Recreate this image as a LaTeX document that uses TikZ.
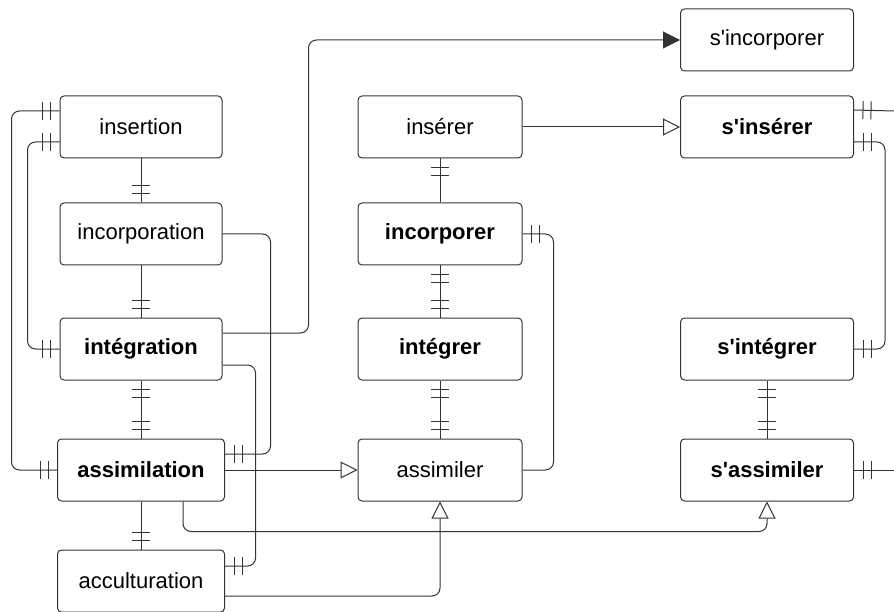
\documentclass[tikz,border=0pt]{standalone}
\usepackage{fontspec}
\setmainfont{Liberation Sans}
\definecolor{ERLine}{RGB}{51,51,51}
\usetikzlibrary{arrows.meta,decorations.markings}

\begin{document}
\begin{tikzpicture}[x=1pt,y=-1pt,line width=1pt,
    ent/.style={draw=ERLine,rounded corners=4pt,font=\fontsize{22}{26}\selectfont,
                minimum width=162pt,minimum height=62pt,inner sep=0pt},
    entb/.style={ent,font=\fontsize{22}{26}\selectfont\bfseries},
    lnk/.style={draw=ERLine,rounded corners=8pt},
    isa/.style={lnk,-{Triangle[open,length=17pt,width=17pt]}},
    go/.style={lnk,-{Triangle[length=17pt,width=17pt]}},
    erstart/.style={postaction={decorate,decoration={markings,
        mark=at position 9pt with {\draw[ERLine,-] (0,-9pt)--(0,9pt);},
        mark=at position 17pt with {\draw[ERLine,-] (0,-9pt)--(0,9pt);}}}},
    erend/.style={postaction={decorate,decoration={markings,
        mark=at position -9pt with {\draw[ERLine,-] (0,-9pt)--(0,9pt);},
        mark=at position -17pt with {\draw[ERLine,-] (0,-9pt)--(0,9pt);}}}}]
    \useasboundingbox (0,0) rectangle (894,612);

    \node[ent]  (insertion)     at (141,127) {insertion};
    \node[ent]  (incorporation) at (141,234) {incorporation};
    \node[entb] (integration)   at (141,349) {intégration};
    \node[entb,minimum width=167pt] (assimilation)  at (141,470) {assimilation};
    \node[ent,minimum width=167pt]  (acculturation) at (141,581) {acculturation};

    \node[ent,minimum width=164pt]  (inserer)    at (440,127) {insérer};
    \node[entb,minimum width=164pt] (incorporer) at (440,234) {incorporer};
    \node[entb,minimum width=164pt] (integrer)   at (440,349) {intégrer};
    \node[ent,minimum width=164pt]  (assimiler)  at (440,470) {assimiler};

    \node[ent,minimum width=173pt]  (sincorporer) at (767,40)  {s\textquotesingle incorporer};
    \node[entb,minimum width=173pt] (sinserer)    at (767,127) {s\textquotesingle insérer};
    \node[entb,minimum width=173pt] (sintegrer)   at (767,349) {s\textquotesingle intégrer};
    \node[entb,minimum width=173pt] (sassimiler)  at (767,470) {s\textquotesingle assimiler};

    \coordinate (outA) at (894,111);
    \coordinate (outB) at (894,470);

    % left column
    \draw[lnk,erstart,erend] ([yshift=16pt]insertion.west) -- ++(-48,0) |- (assimilation.west);
    \draw[lnk,erstart,erend] ([yshift=-15pt]insertion.west) -- ++(-32,0) |- (integration.west);
    \draw[lnk,erend] (insertion) -- (incorporation);
    \draw[lnk,erend] (incorporation) -- (integration);
    \draw[lnk,erstart,erend] (integration) -- (assimilation);
    \draw[lnk,erend] (assimilation) -- (acculturation);
    \draw[lnk,erend] (incorporation.east) -- ++(48,0) |- ([yshift=16pt]assimilation.east);
    \draw[lnk,erend] ([yshift=-16pt]integration.east) -- ++(33,0) |- ([yshift=15pt]acculturation.east);

    % to the verbs
    \draw[go] ([yshift=16pt]integration.east) -- ++(86,0) |- (sincorporer.west);
    \draw[isa] (assimilation) -- (assimiler);
    \draw[isa] ([xshift=42pt]assimilation.south) -- ++(0,30) -| (sassimiler.south);
    \draw[isa] ([yshift=-15pt]acculturation.east) -| (assimiler.south);
    \draw[isa] (inserer) -- (sinserer);

    % middle column
    \draw[lnk,erstart] (inserer) -- (incorporer);
    \draw[lnk,erstart,erend] (incorporer) -- (integrer);
    \draw[lnk,erstart,erend] (integrer) -- (assimiler);
    \draw[lnk,erstart] (incorporer.east) -- ++(31,0) |- (assimiler.east);

    % right column
    \draw[lnk,erstart] ([yshift=17pt]sinserer.east) -- (outA);
    \draw[lnk,erstart,erend] ([yshift=-15pt]sinserer.east) -- ++(31,0) |- (sintegrer.east);
    \draw[lnk,erstart,erend] (sintegrer) -- (sassimiler);
    \draw[lnk,erstart] (sassimiler) -- (outB);
\end{tikzpicture}
\end{document}
